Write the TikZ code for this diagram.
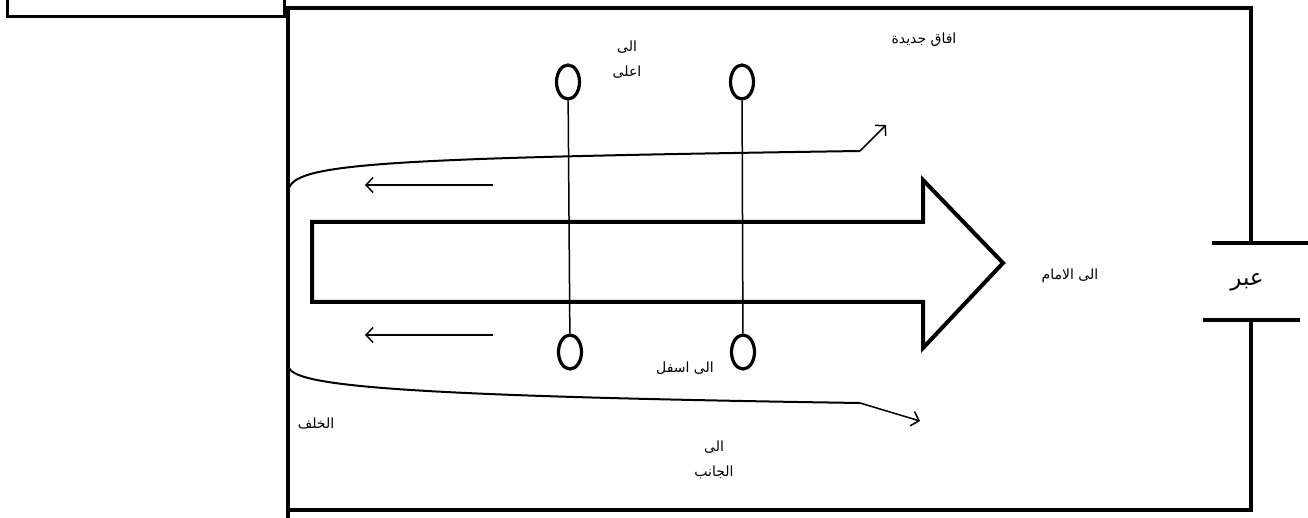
\documentclass[tikz,border=0pt]{standalone}
\usepackage{fontspec}
\newfontfamily\arabicfont[Script=Arabic]{DejaVu Sans}
\TeXXeTstate=1
\usetikzlibrary{shapes.geometric,arrows.meta,positioning}
\tikzstyle{every path}+=[line join=miter]
\newcommand{\drawlinks}[2][\empty]{
	\foreach \a/\b in {#2}{
		\draw[#1] (\a) -- (\b);
	}
}
\newcommand{\arab}[1]{\beginR #1\endR}

\begin{document}
\begin{tikzpicture}[x=1pt,y=-1pt,
	boxline/.style={line width=4pt},
	ring/.style={ellipse,draw,line width=3.2pt,minimum width=23pt,minimum height=34pt,inner sep=0pt},
	txt/.style={font=\fontsize{14}{25}\selectfont\arabicfont,align=center,inner sep=0pt},
	flow/.style={line width=1.5pt,-{Straight Barb[length=7pt,width=15pt]}},
	side/.style={line width=2pt}]

\useasboundingbox (0,0) rectangle (1308,518);

\draw[line width=3pt] (7,-5) -- (7,17) -- (284,17) -- (284,-5);

\draw[boxline] (288,518) -- (288,8) -- (1251,8) -- (1251,243);
\draw[boxline] (1251,319) -- (1251,510) -- (288,510);
\draw[boxline] (1212,243) -- (1308,243);
\draw[boxline] (1203,320) -- (1300,320);

\draw[boxline] (312,222) -- (923,222) -- (923,180) -- (1003,263) -- (923,348) -- (923,302) -- (312,302) -- cycle;

\node[ring] (u1) at (568,82) {};
\node[ring] (u2) at (742,82) {};
\node[ring] (d1) at (570,352) {};
\node[ring] (d2) at (743,352) {};
\drawlinks[line width=1.5pt]{u1/d1,u2/d2}

\coordinate (r1) at (493,185);
\coordinate (l1) at (365,185);
\coordinate (r2) at (493,335);
\coordinate (l2) at (365,335);
\draw[flow] (r1) -- (l1);
\draw[flow] (r2) -- (l2);

\coordinate (s1) at (289,188);
\coordinate (c1) at (860,151);
\coordinate (e1) at (886,125);
\coordinate (s2) at (289,368);
\coordinate (c2) at (860,403);
\coordinate (e2) at (920,421);
\draw[side] (s1) .. controls (298,163) and (390,158) .. (c1);
\draw[flow] (c1) -- (e1);
\draw[side] (s2) .. controls (298,386) and (400,396) .. (c2);
\draw[flow] (c2) -- (e2);

\node[txt] (up) at (627,60) {\arab{الى}\\\arab{اعلى}};
\node[txt] (new) at (924,40) {\arab{افاق جديدة}};
\node[txt] (fwd) at (1070,276) {\arab{الى الامام}};
\node[txt] (down) at (685,368) {\arab{الى اسفل}};
\node[txt] (back) at (316,423) {\arab{الخلف}};
\node[txt] (aside) at (714,460) {\arab{الى}\\\arab{الجانب}};
\node[txt,font=\fontsize{23}{26}\selectfont\arabicfont] (across) at (1247,282) {\arab{عبر}};

\end{tikzpicture}
\end{document}
